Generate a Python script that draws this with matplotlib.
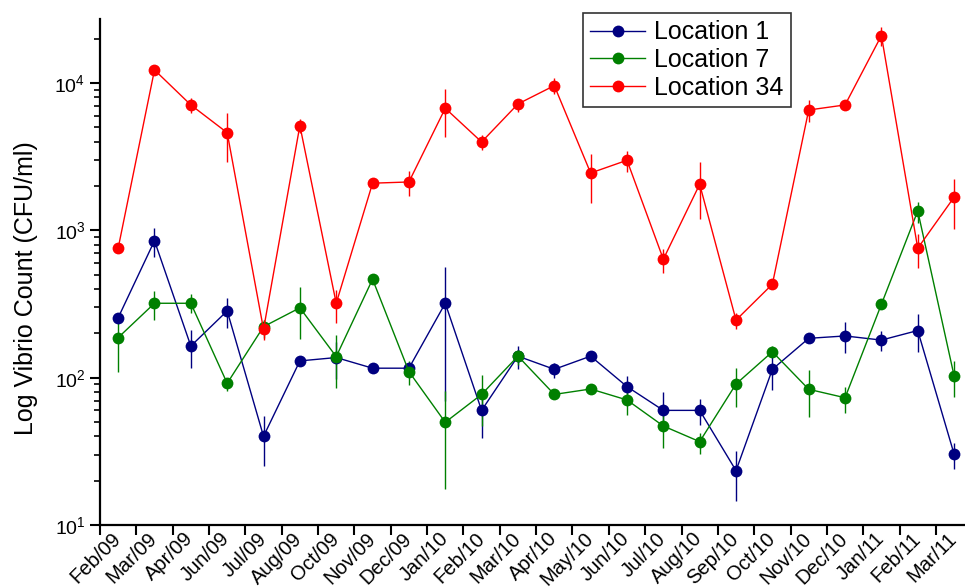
import matplotlib
matplotlib.use('Agg')
import matplotlib.pyplot as plt
from matplotlib.lines import Line2D
import numpy as np

plt.rcParams['font.family'] = ['Liberation Sans', 'DejaVu Sans']

meses = ['Feb/09', 'Mar/09', 'Apr/09', 'Jun/09', 'Jul/09', 'Aug/09', 'Oct/09', 'Nov/09',
         'Dec/09', 'Jan/10', 'Feb/10', 'Mar/10', 'Apr/10', 'May/10', 'Jun/10', 'Jul/10',
         'Aug/10', 'Sep/10', 'Oct/10', 'Nov/10', 'Dec/10', 'Jan/11', 'Feb/11', 'Mar/11']

# contagens medias (CFU/ml) e limites das barras de erro
loc1 = [255, 850, 164, 284, 40, 130, 137, 116, 116, 320, 60, 140,
        114, 140, 87, 60, 60, 23.4, 114, 185, 192, 180, 209, 30.3]
loc1_sup = [265, 1035, 211, 346, 55, 130, 174, 116, 126, 566, 79, 165,
            125, 140, 103, 80, 72, 31.9, 143, 185, 240, 207, 269, 35.9]
loc1_inf = [245, 656, 116, 218, 25, 130, 98, 116, 106, 70, 39, 115,
            99, 140, 71, 45, 48, 14.6, 83, 185, 147, 152, 150, 23.9]

loc7 = [187, 320, 320, 91.6, 222, 298, 139, 466, 110, 49.8, 77, 140,
        77, 83.8, 70.6, 47, 36.8, 90.6, 150, 83.4, 73.1, 315, 1355, 103]
loc7_sup = [262, 388, 368, 99, 246, 415, 195, 466, 130, 81.6, 105, 154,
            81, 83.8, 84, 59, 42.4, 116, 164, 113, 86, 330, 1567, 130]
loc7_inf = [109, 246, 274, 81.6, 185, 182, 84.7, 466, 89, 17.5, 47.2, 122,
            73, 83.8, 55.9, 33.2, 30.3, 63, 138, 53.8, 58, 300, 1117, 74.3]

loc34 = [756, 12270, 7100, 4600, 213, 5140, 320, 2090, 2130, 6740, 3980, 7210,
         9600, 2450, 2990, 637, 2055, 246, 431, 6560, 7100, 20990, 756, 1679]
loc34_sup = [800, 12900, 7960, 6240, 246, 5700, 394, 2090, 2540, 9070, 4440, 7760,
             10880, 3290, 3460, 745, 2900, 276, 450, 7680, 7100, 24150, 942, 2235]
loc34_inf = [715, 11700, 6240, 2900, 180, 4600, 234, 2090, 1710, 4320, 3500, 6400,
             8400, 1530, 2480, 511, 1195, 215, 412, 5470, 7100, 17950, 558, 1021]

series = [
    ('Location 1', loc1, loc1_inf, loc1_sup, '#000080'),
    ('Location 7', loc7, loc7_inf, loc7_sup, '#008000'),
    ('Location 34', loc34, loc34_inf, loc34_sup, '#ff0000'),
]

fig = plt.figure(figsize=(9.65, 5.88), dpi=100)
ax = fig.add_axes([0.1036, 0.1071, 0.8964, 0.8606])

x = np.arange(len(meses)) + 0.5
handles = []
for nome, y, inf, sup, cor in series:
    y = np.array(y)
    erro = [y - np.array(inf), np.array(sup) - y]
    ax.errorbar(x, y, yerr=erro, color=cor, lw=1.0, elinewidth=1.0,
                capsize=4, capthick=1.0, marker='o', ms=8.5,
                markeredgewidth=0)
    handles.append(Line2D([], [], color=cor, lw=1.0, marker='o', ms=8.5,
                          markeredgewidth=0, label=nome))

ax.set_yscale('log')
ax.set_ylim(10, 27200)
ax.set_xlim(0, 23.8)

ax.set_xticks(np.arange(len(meses)))
ax.set_xticklabels([])
# rotulos dos meses no meio de cada intervalo
ax.set_xticks(x + 0.1, minor=True)
ax.set_xticklabels(meses, minor=True, rotation=45, ha='right', va='baseline',
                   rotation_mode='anchor', fontsize=14.5)
ax.tick_params(axis='x', which='minor', length=0, pad=10.5)
ax.tick_params(axis='x', which='major', length=7, width=1.5, direction='out')
ax.tick_params(axis='y', which='major', length=7, width=1.5, labelsize=14)
ax.tick_params(axis='y', which='minor', length=4, width=1.2)

ax.spines['top'].set_visible(False)
ax.spines['right'].set_visible(False)
ax.spines['left'].set_linewidth(1.6)
ax.spines['bottom'].set_linewidth(1.6)

ax.set_ylabel('Log Vibrio Count (CFU/ml)', fontsize=18)
ax.yaxis.set_label_coords(-0.0717, 0.468)

leg = ax.legend(handles=handles, loc='upper left', bbox_to_anchor=(0.604, 0.978),
                bbox_transform=fig.transFigure, fontsize=18, frameon=True,
                fancybox=False, handlelength=2.2, handletextpad=0.35,
                labelspacing=0.15, borderpad=0.3, borderaxespad=0)
leg.get_frame().set_edgecolor('black')
leg.get_frame().set_linewidth(1.2)

fig.savefig('out.png', dpi=100)
